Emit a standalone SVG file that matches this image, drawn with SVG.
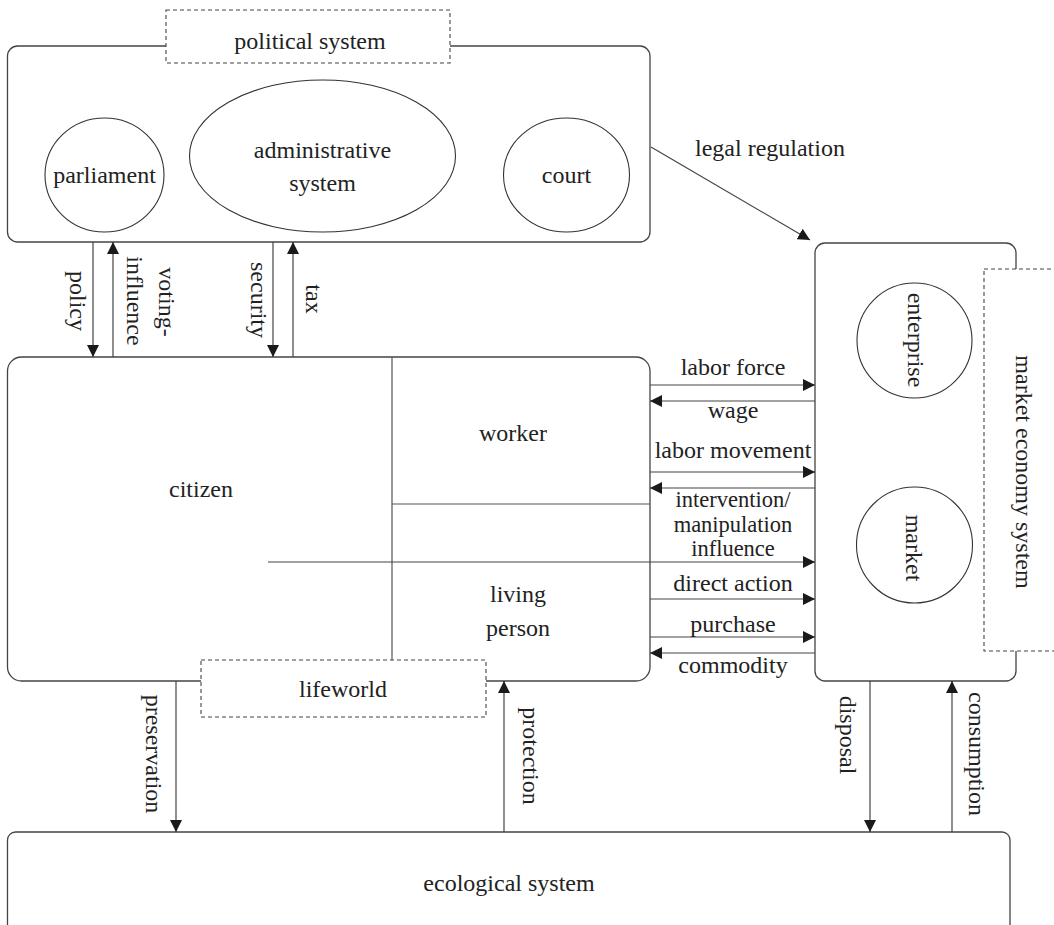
<svg xmlns="http://www.w3.org/2000/svg" width="1054" height="925" viewBox="0 0 1054 925">
  <style>
    .box { fill: #fff; stroke: #444; stroke-width: 1.3; }
    .tag { fill: #fff; stroke: #444; stroke-width: 1.1; stroke-dasharray: 4 3; }
    .ring { fill: none; stroke: #333; stroke-width: 1.1; }
    .div { fill: none; stroke: #555; stroke-width: 1.2; }
    .wire { fill: none; stroke: #444; stroke-width: 1.2; }
    .head { marker-end: url(#arrow); }
    text { font-family: "Liberation Serif", "Times New Roman", serif; font-size: 24px; fill: #222; text-anchor: middle; }
    .tight { font-size: 22.5px; }
  </style>
  <defs>
    <marker id="arrow" markerUnits="userSpaceOnUse" markerWidth="12" markerHeight="12" refX="12" refY="6" orient="auto">
      <path d="M0,0 L12,6 L0,12 z" fill="#1a1a1a"/>
    </marker>
  </defs>

  <rect width="1054" height="925" fill="#fff"/>

  <!-- political system -->
  <g id="political-system">
    <rect class="box" x="7.5" y="46" width="642.5" height="196" rx="10"/>
    <rect class="tag" x="166" y="10" width="284" height="53"/>
    <text x="310" y="49">political system</text>
  </g>
  <g id="parliament">
    <ellipse class="ring" cx="104.5" cy="175" rx="59.5" ry="57"/>
    <text x="104.5" y="183">parliament</text>
  </g>
  <g id="administrative-system">
    <ellipse class="ring" cx="322.5" cy="156" rx="133" ry="76"/>
    <text x="322.5" y="158">administrative</text>
    <text x="322.5" y="191">system</text>
  </g>
  <g id="court">
    <ellipse class="ring" cx="566.5" cy="175" rx="63" ry="57"/>
    <text x="566.5" y="183">court</text>
  </g>

  <!-- citizen / lifeworld -->
  <g id="citizen">
    <rect class="box" x="7.5" y="357" width="642.5" height="324" rx="14"/>
    <line class="div" x1="392" y1="357" x2="392" y2="681"/>
    <line class="div" x1="392" y1="504" x2="650" y2="504"/>
    <text x="201" y="497">citizen</text>
  </g>
  <g id="worker">
    <text x="513" y="441">worker</text>
  </g>
  <g id="living-person">
    <text x="518" y="602">living</text>
    <text x="518" y="636">person</text>
  </g>
  <g id="lifeworld">
    <rect class="tag" x="201" y="660" width="285" height="57"/>
    <text x="343" y="697">lifeworld</text>
  </g>

  <!-- market economy system -->
  <g id="market-economy-system">
    <rect class="box" x="815" y="243" width="201" height="438" rx="10"/>
    <rect class="tag" x="984" y="269" width="90" height="382"/>
    <text transform="translate(1016,472) rotate(90)">market economy system</text>
  </g>
  <g id="enterprise">
    <circle class="ring" cx="914.5" cy="340.5" r="57.5"/>
    <text transform="translate(908,340) rotate(90)">enterprise</text>
  </g>
  <g id="market">
    <circle class="ring" cx="914.5" cy="545" r="58"/>
    <text transform="translate(906,548) rotate(90)">market</text>
  </g>

  <!-- ecological system -->
  <g id="ecological-system">
    <rect class="box" x="7.5" y="832" width="1002.5" height="110" rx="8"/>
    <text x="509" y="891">ecological system</text>
  </g>

  <!-- connectors -->
  <g id="connectors">
    <!-- political system <-> citizen -->
    <line class="wire head" x1="93" y1="242" x2="93" y2="357"/>
    <line class="wire head" x1="113" y1="357" x2="113" y2="242"/>
    <line class="wire head" x1="273" y1="242" x2="273" y2="357"/>
    <line class="wire head" x1="293" y1="357" x2="293" y2="242"/>
    <text transform="translate(70,301) rotate(90)">policy</text>
    <text transform="translate(159,302) rotate(90)">voting-</text>
    <text transform="translate(127,301) rotate(90)">influence</text>
    <text transform="translate(251,300) rotate(90)">security</text>
    <text transform="translate(306,299) rotate(90)">tax</text>

    <!-- political system -> market -->
    <line class="wire head" x1="651" y1="147" x2="810" y2="240"/>
    <text x="770" y="156">legal regulation</text>

    <!-- citizen <-> market -->
    <line class="wire head" x1="650" y1="385" x2="815" y2="385"/>
    <line class="wire head" x1="815" y1="401" x2="650" y2="401"/>
    <line class="wire head" x1="650" y1="472" x2="815" y2="472"/>
    <line class="wire head" x1="815" y1="488" x2="650" y2="488"/>
    <line class="wire head" x1="268" y1="562" x2="815" y2="562"/>
    <line class="wire head" x1="650" y1="599" x2="815" y2="599"/>
    <line class="wire head" x1="650" y1="637" x2="815" y2="637"/>
    <line class="wire head" x1="815" y1="653" x2="650" y2="653"/>
    <text x="733" y="375">labor force</text>
    <text x="733" y="418">wage</text>
    <text x="733" y="458">labor movement</text>
    <text class="tight" x="733" y="507">intervention/</text>
    <text class="tight" x="733" y="532">manipulation</text>
    <text class="tight" x="733" y="556">influence</text>
    <text x="733" y="591">direct action</text>
    <text x="733" y="632">purchase</text>
    <text x="733" y="673">commodity</text>

    <!-- citizen <-> ecological system -->
    <line class="wire head" x1="176" y1="681" x2="176" y2="832"/>
    <line class="wire head" x1="504" y1="832" x2="504" y2="681"/>
    <text transform="translate(146,754) rotate(90)">preservation</text>
    <text transform="translate(523,756) rotate(90)">protection</text>

    <!-- market <-> ecological system -->
    <line class="wire head" x1="870" y1="681" x2="870" y2="832"/>
    <line class="wire head" x1="952" y1="832" x2="952" y2="681"/>
    <text transform="translate(840,735) rotate(90)">disposal</text>
    <text transform="translate(969,754) rotate(90)">consumption</text>
  </g>
</svg>
